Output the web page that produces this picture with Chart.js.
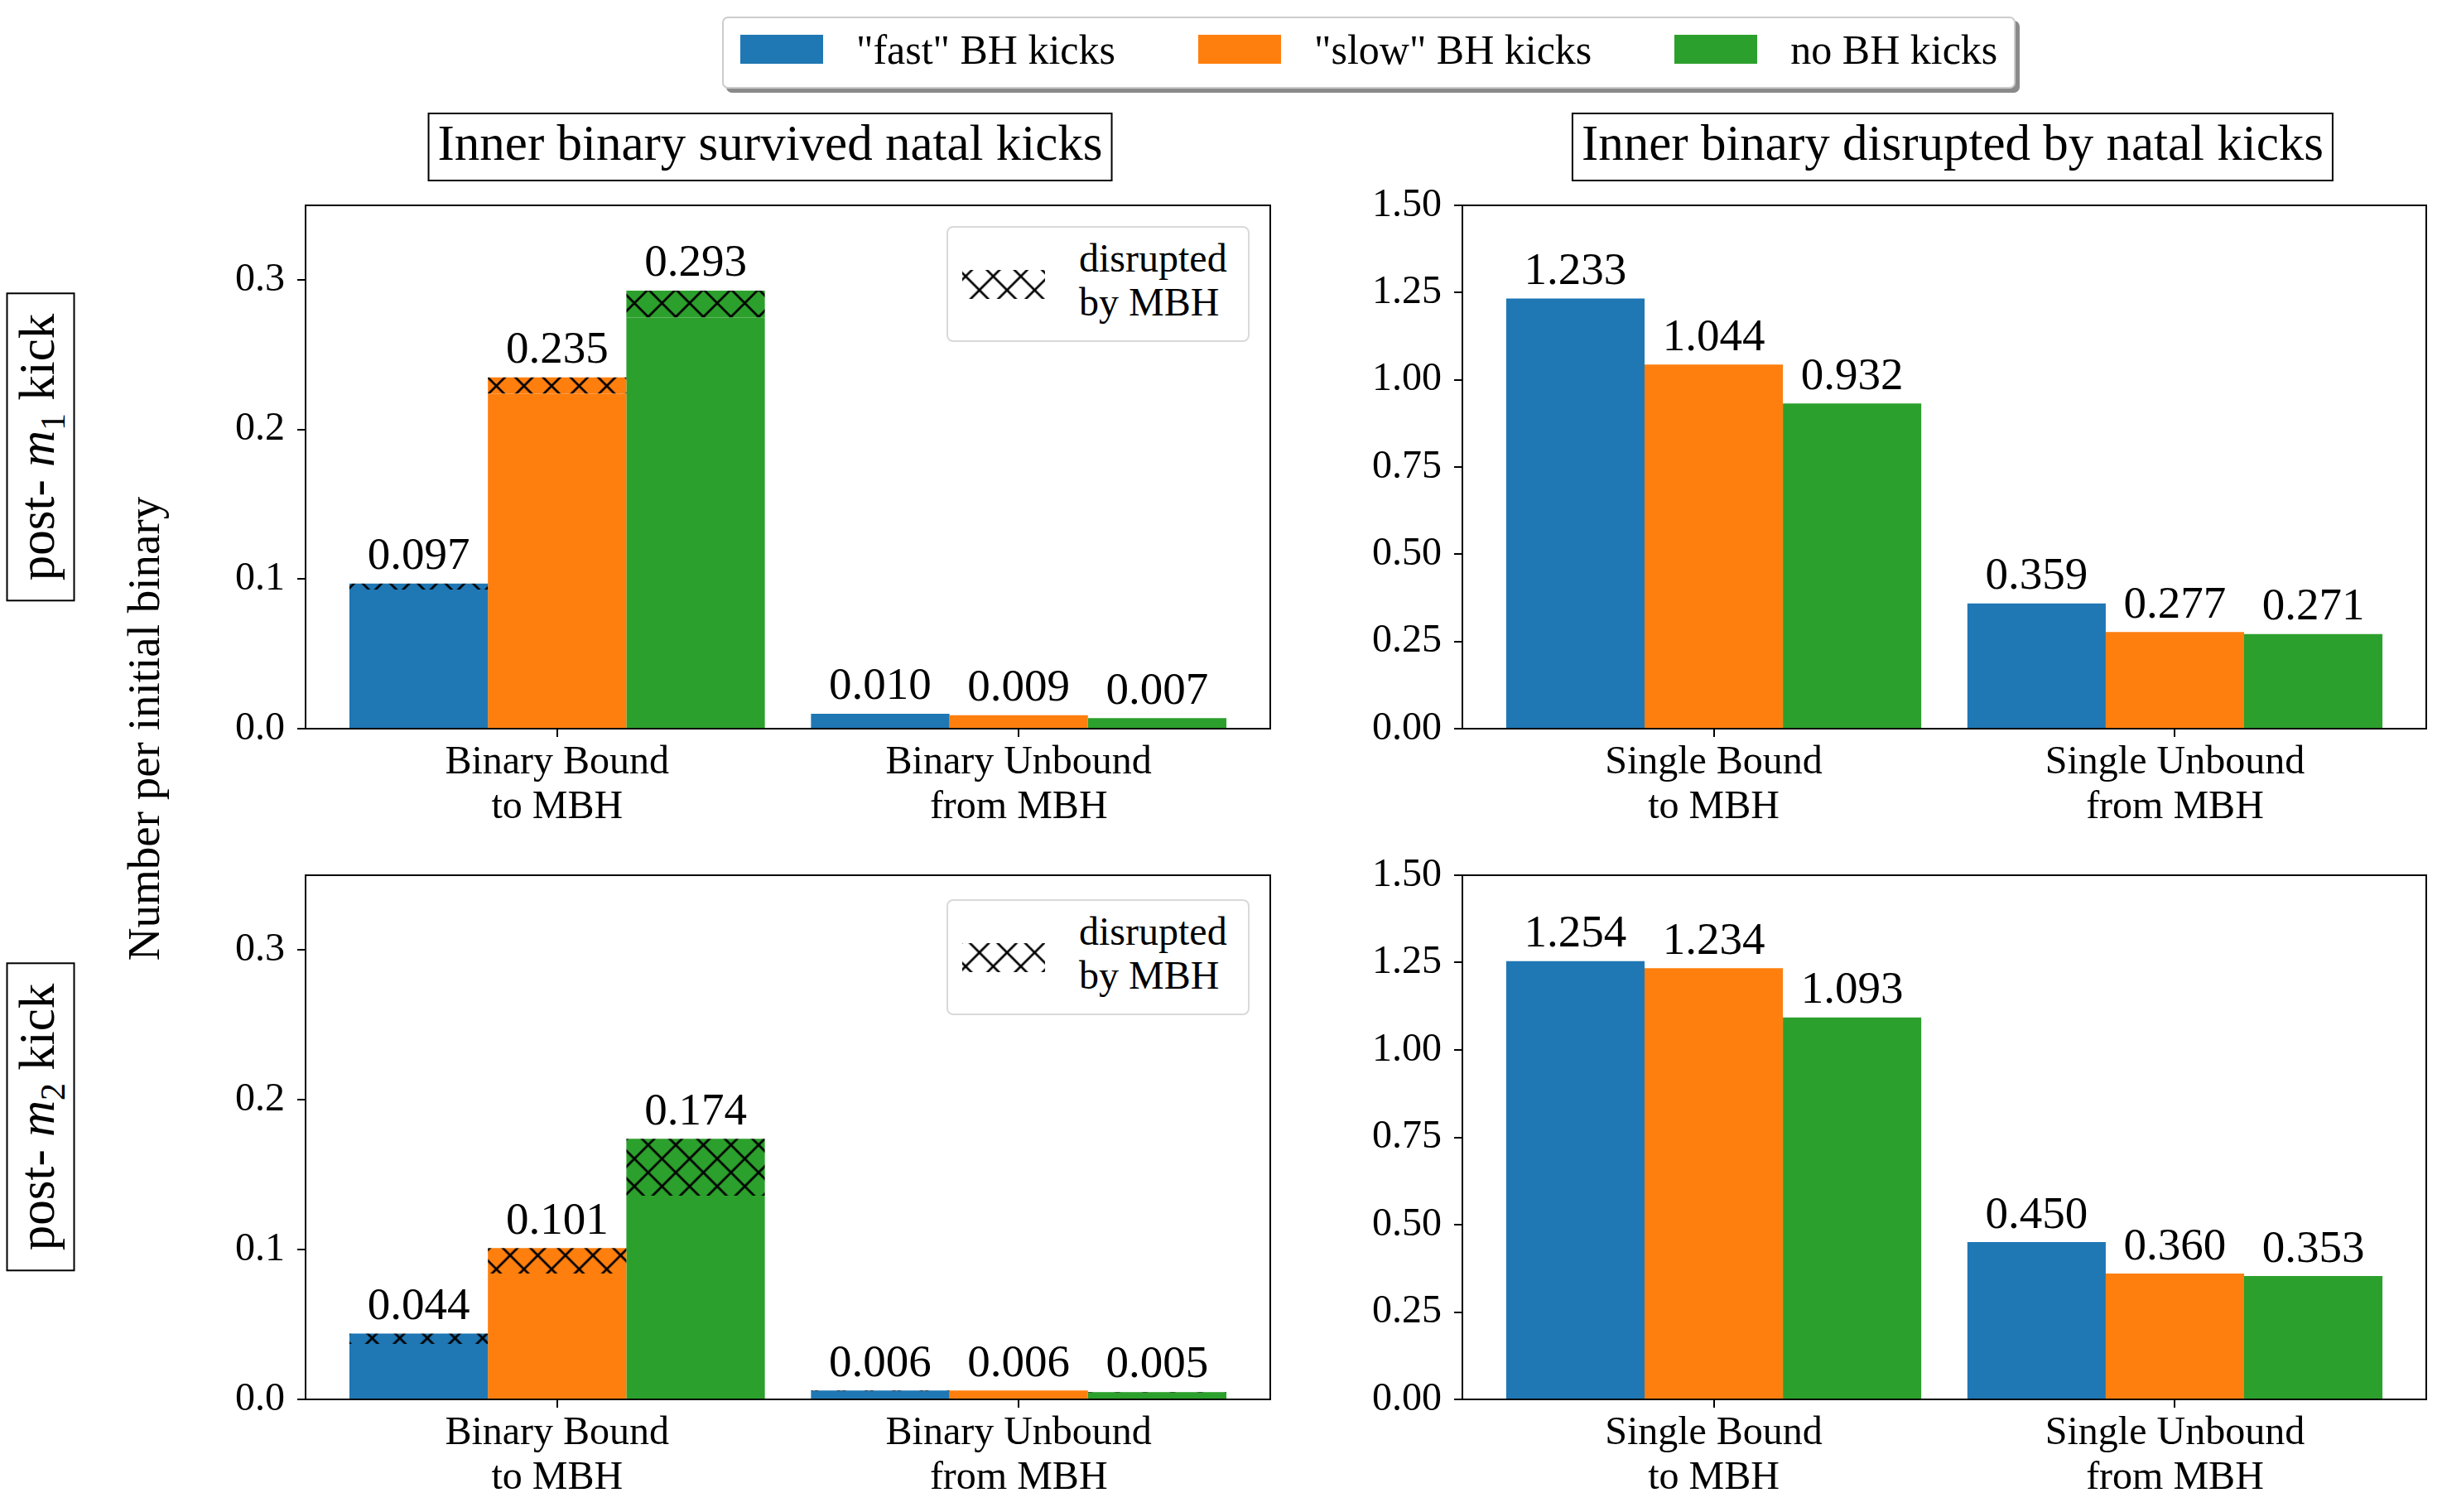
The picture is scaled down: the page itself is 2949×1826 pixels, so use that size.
<!DOCTYPE html>
<html>
<head>
<meta charset="utf-8">
<script src="https://cdn.jsdelivr.net/npm/chart.js@4.4.1/dist/chart.umd.min.js"></script>
<style>
body { margin: 0; background: #fff; }
#fig { position: relative; width: 2949px; height: 1826px; overflow: hidden; font-family: 'Liberation Serif', 'Times New Roman', serif; color: #000; }
canvas.panel { position: absolute; }
.title { position: absolute; box-sizing: border-box; height: 83px; border: 2.5px solid #000; font-size: 61px; line-height: 70px; padding: 0 10px; white-space: nowrap; transform: translateX(-50%); background: #fff; }
.rowlab { position: absolute; box-sizing: border-box; height: 83px; border: 2.5px solid #000; font-size: 61px; line-height: 70px; padding: 0 23px; white-space: nowrap; transform: translate(-50%, -50%) rotate(-90deg); }
#ylab { position: absolute; left: 173px; top: 880px; font-size: 55px; white-space: nowrap; transform: translate(-50%, -50%) rotate(-90deg); }
#legend { position: absolute; left: 872px; top: 20px; height: 87px; box-sizing: border-box; border: 2px solid #ccc; border-radius: 7px; background: #fff; box-shadow: 5px 5px 0 #8a8a8a; display: flex; align-items: center; padding: 0 20px 8px 20px; font-size: 50px; white-space: nowrap; }
#legend .sw { display: inline-block; width: 100px; height: 35px; margin-right: 40px; }
#legend .it { display: flex; align-items: center; margin-right: 100px; }
#legend .it:last-child { margin-right: 0; }
.hleg { position: absolute; left: 1143px; width: 366px; height: 140px; box-sizing: border-box; border: 2px solid #d9d9d9; border-radius: 8px; background: #fff; display: flex; align-items: center; padding-left: 17px; font-size: 48px; line-height: 53px; }
.hleg canvas { margin-right: 41px; }
.hleg div { position: relative; top: -5px; }
</style>
</head>
<body>
<div id="fig">
  <div class="title" style="left:930px; top:136px;">Inner binary survived natal kicks</div>
  <div class="title" style="left:2358px; top:136px;">Inner binary disrupted by natal kicks</div>
  <div class="rowlab" style="left:49px; top:540px;">post- <i>m</i><sub style="font-size:42px">1</sub> kick</div>
  <div class="rowlab" style="left:49px; top:1349px;">post- <i>m</i><sub style="font-size:42px">2</sub> kick</div>
  <div id="ylab">Number per initial binary</div>
  <div id="legend"></div>
</div>
<script>
// categories
var survivedGroups = [['Binary Bound', 'to MBH'], ['Binary Unbound', 'from MBH']];
var disruptedGroups = [['Single Bound', 'to MBH'], ['Single Unbound', 'from MBH']];
var seriesNames = ['"fast" BH kicks', '"slow" BH kicks', 'no BH kicks'];
var seriesColors = ['#1f77b4', '#ff7f0e', '#2ca02c'];

// post-m1 kick, inner binary survived
var m1SurvFast = [0.097, 0.010];
var m1SurvSlow = [0.235, 0.009];
var m1SurvNone = [0.293, 0.007];
// part of the above disrupted by MBH (hatched)
var m1HatchFast = [0.004, 0];
var m1HatchSlow = [0.011, 0];
var m1HatchNone = [0.018, 0];

// post-m1 kick, inner binary disrupted
var m1DisrFast = [1.233, 0.359];
var m1DisrSlow = [1.044, 0.277];
var m1DisrNone = [0.932, 0.271];

// post-m2 kick, inner binary survived
var m2SurvFast = [0.044, 0.006];
var m2SurvSlow = [0.101, 0.006];
var m2SurvNone = [0.174, 0.005];
var m2HatchFast = [0.007, 0.0005];
var m2HatchSlow = [0.017, 0];
var m2HatchNone = [0.038, 0.0005];

// post-m2 kick, inner binary disrupted
var m2DisrFast = [1.254, 0.450];
var m2DisrSlow = [1.234, 0.360];
var m2DisrNone = [1.093, 0.353];

// tick labels
var yTicksSurv = [0, 0.1, 0.2, 0.3];
var yTicksDisr = [0, 0.25, 0.5, 0.75, 1.0, 1.25, 1.5];

var FONT = "'Liberation Serif', 'Times New Roman', serif";
Chart.defaults.font.family = FONT;
Chart.defaults.color = '#000';

var Y_W = 200, X_H = 130, PAD_T = 40, PAD_R = 15;
var HATCH_D = 100 / 3;
var HATCH_X0 = 782.7, HATCH_Y0 = 1382.7;

function hatchTile(fill) {
    var t = document.createElement('canvas');
    t.width = 100; t.height = 100;
    var c = t.getContext('2d');
    if (fill) { c.fillStyle = fill; c.fillRect(0, 0, 100, 100); }
    c.strokeStyle = '#000';
    c.lineWidth = 2.7;
    c.beginPath();
    for (var k = -4; k <= 8; k++) {
        c.moveTo(-20, -20 + k * HATCH_D); c.lineTo(120, 120 + k * HATCH_D);
        c.moveTo(-20, 20 + k * HATCH_D); c.lineTo(120, -120 + k * HATCH_D);
    }
    c.stroke();
    return t;
}

function hatchPattern(ctx, fill, left, top) {
    var p = ctx.createPattern(hatchTile(fill), 'repeat');
    var ox = ((HATCH_X0 - left) % HATCH_D + HATCH_D) % HATCH_D;
    var oy = ((HATCH_Y0 - top) % HATCH_D + HATCH_D) % HATCH_D;
    p.setTransform(new DOMMatrix().translate(ox, oy));
    return p;
}

var framePlugin = {
    id: 'frame',
    afterDatasetsDraw: function (chart) {
        var a = chart.chartArea, ctx = chart.ctx;
        ctx.save();
        ctx.strokeStyle = '#000';
        ctx.lineWidth = 2;
        ctx.strokeRect(a.left, a.top, a.right - a.left, a.bottom - a.top);
        ctx.restore();
    }
};

var barValuesPlugin = {
    id: 'barValues',
    afterDatasetsDraw: function (chart, args, opts) {
        var ctx = chart.ctx;
        ctx.save();
        ctx.font = '55px ' + FONT;
        ctx.fillStyle = '#000';
        ctx.textAlign = 'center';
        ctx.textBaseline = 'alphabetic';
        opts.tops.forEach(function (dsIndex, s) {
            var meta = chart.getDatasetMeta(dsIndex);
            meta.data.forEach(function (el, i) {
                ctx.fillText(opts.totals[s][i].toFixed(3), el.x, el.y - 17.5);
            });
        });
        ctx.restore();
    }
};

function makePanel(ax, groups, totals, hatches, yMax, yTicks, yDec) {
    var canvas = document.createElement('canvas');
    canvas.className = 'panel';
    var left = ax.l - Y_W, top = ax.t - PAD_T;
    canvas.width = Y_W + (ax.r - ax.l) + PAD_R;
    canvas.height = PAD_T + (ax.b - ax.t) + X_H;
    canvas.style.left = left + 'px';
    canvas.style.top = top + 'px';
    document.getElementById('fig').appendChild(canvas);
    var ctx = canvas.getContext('2d');

    var datasets = [], tops = [];
    totals.forEach(function (vals, s) {
        var h = hatches ? hatches[s] : null;
        datasets.push({
            label: seriesNames[s],
            stack: 's' + s,
            backgroundColor: seriesColors[s],
            data: vals.map(function (v, i) { return { x: i, y: h ? v - h[i] : v }; })
        });
        if (h) {
            datasets.push({
                label: seriesNames[s] + ' disrupted by MBH',
                stack: 's' + s,
                backgroundColor: hatchPattern(ctx, seriesColors[s], left, top),
                data: h.map(function (v, i) { return { x: i, y: v }; })
            });
        }
        tops.push(datasets.length - 1);
    });

    return new Chart(ctx, {
        type: 'bar',
        data: { datasets: datasets },
        plugins: [framePlugin, barValuesPlugin],
        options: {
            responsive: false,
            devicePixelRatio: 1,
            animation: false,
            events: [],
            categoryPercentage: 0.9,
            barPercentage: 1.0,
            layout: { padding: { top: PAD_T, right: PAD_R, left: 0, bottom: 0 } },
            plugins: {
                legend: { display: false },
                tooltip: { enabled: false },
                barValues: { totals: totals, tops: tops }
            },
            scales: {
                x: {
                    type: 'linear',
                    min: -0.545,
                    max: 1.545,
                    offset: false,
                    border: { display: false },
                    grid: { offset: false, drawOnChartArea: false, drawTicks: true, tickLength: 10, color: '#000', lineWidth: 2 },
                    afterBuildTicks: function (axis) {
                        axis.ticks = groups.map(function (g, i) { return { value: i }; });
                    },
                    afterFit: function (scale) {
                        scale.height = X_H;
                        scale.paddingLeft = 0;
                        scale.paddingRight = 0;
                    },
                    ticks: {
                        autoSkip: false,
                        maxRotation: 0,
                        padding: 4,
                        font: { size: 48, lineHeight: 54 / 48 },
                        callback: function (v, i) { return groups[i]; }
                    }
                },
                y: {
                    stacked: true,
                    min: 0,
                    max: yMax,
                    border: { display: false },
                    grid: { drawOnChartArea: false, drawTicks: true, tickLength: 10, color: '#000', lineWidth: 2 },
                    afterBuildTicks: function (axis) {
                        axis.ticks = yTicks.map(function (v) { return { value: v }; });
                    },
                    afterFit: function (scale) {
                        scale.width = Y_W;
                        scale.paddingTop = 0;
                        scale.paddingBottom = 0;
                    },
                    ticks: {
                        padding: 15,
                        font: { size: 48 },
                        callback: function (v) { return v.toFixed(yDec); }
                    }
                }
            }
        }
    });
}

makePanel({ l: 369, t: 248, r: 1534, b: 880 }, survivedGroups,
    [m1SurvFast, m1SurvSlow, m1SurvNone], [m1HatchFast, m1HatchSlow, m1HatchNone], 0.35, yTicksSurv, 1);
makePanel({ l: 1766, t: 248, r: 2930, b: 880 }, disruptedGroups,
    [m1DisrFast, m1DisrSlow, m1DisrNone], null, 1.5, yTicksDisr, 2);
makePanel({ l: 369, t: 1057, r: 1534, b: 1690 }, survivedGroups,
    [m2SurvFast, m2SurvSlow, m2SurvNone], [m2HatchFast, m2HatchSlow, m2HatchNone], 0.35, yTicksSurv, 1);
makePanel({ l: 1766, t: 1057, r: 2930, b: 1690 }, disruptedGroups,
    [m2DisrFast, m2DisrSlow, m2DisrNone], null, 1.5, yTicksDisr, 2);

// main legend
var leg = document.getElementById('legend');
seriesNames.forEach(function (name, s) {
    var it = document.createElement('span');
    it.className = 'it';
    var sw = document.createElement('span');
    sw.className = 'sw';
    sw.style.background = seriesColors[s];
    var tx = document.createElement('span');
    tx.textContent = name;
    it.appendChild(sw);
    it.appendChild(tx);
    leg.appendChild(it);
});

// hatch legends inside the left panels
[273, 1086].forEach(function (y) {
    var box = document.createElement('div');
    box.className = 'hleg';
    box.style.top = y + 'px';
    var c = document.createElement('canvas');
    c.width = 100; c.height = 35;
    var cx = c.getContext('2d');
    cx.fillStyle = hatchPattern(cx, null, 1162, y + 52);
    cx.fillRect(0, 0, 100, 35);
    var t = document.createElement('div');
    t.innerHTML = 'disrupted<br>by MBH';
    box.appendChild(c);
    box.appendChild(t);
    document.getElementById('fig').appendChild(box);
});
</script>
</body>
</html>
